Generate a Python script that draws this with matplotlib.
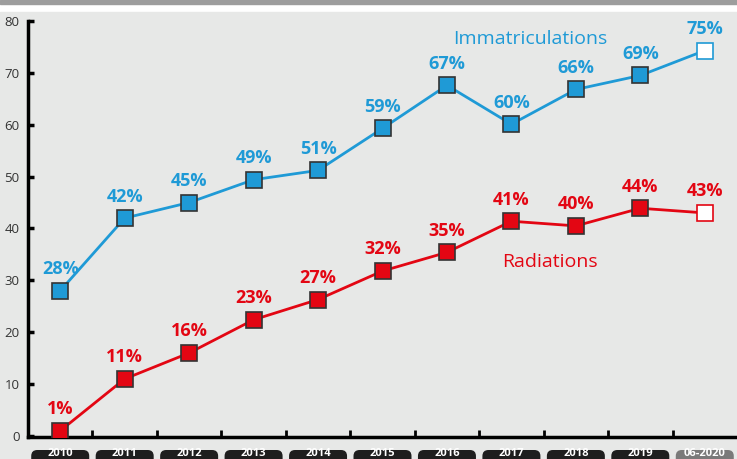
import matplotlib.pyplot as plt
from matplotlib.patches import Rectangle, FancyBboxPatch
from matplotlib.transforms import IdentityTransform

years = ["2010", "2011", "2012", "2013", "2014", "2015", "2016", "2017", "2018", "2019", "06-2020"]
immat = [28, 42, 45, 49.4, 51.2, 59.3, 67.6, 60.1, 66.8, 69.5, 74.3]
immat_lbl = ["28%", "42%", "45%", "49%", "51%", "59%", "67%", "60%", "66%", "69%", "75%"]
radia = [1, 11, 16, 22.4, 26.3, 31.8, 35.4, 41.4, 40.5, 43.9, 43]
radia_lbl = ["1%", "11%", "16%", "23%", "27%", "32%", "35%", "41%", "40%", "44%", "43%"]

BLUE = "#1f9ad6"
RED = "#e30613"
BG = "#e7e8e7"

plt.rcParams["font.family"] = ["Open Sans", "DejaVu Sans"]

fig = plt.figure(figsize=(7.37, 4.59), dpi=100)
fig.patches.append(Rectangle((0, 0), 1, 447 / 459, transform=fig.transFigure,
                             color=BG, zorder=-10))
fig.patches.append(Rectangle((0, 455 / 459), 1, 4 / 459, transform=fig.transFigure,
                             color="#9d9d9d", zorder=-10))

ax = fig.add_axes([28 / 737, 1 - 437 / 459, 1 - 28 / 737, 416 / 459])
ax.set_facecolor("none")
x = list(range(len(years)))

for vals, lbls, c in [(immat, immat_lbl, BLUE), (radia, radia_lbl, RED)]:
    ax.plot(x, vals, color=c, lw=2, zorder=2)
    ax.plot(x[:-1], vals[:-1], ls="none", marker="s", ms=11, mfc=c,
            mec="#333333", mew=1.2, zorder=3)
    ax.plot(x[-1:], vals[-1:], ls="none", marker="s", ms=11, mfc="white",
            mec=c, mew=1.2, zorder=3)
    for xi, v, t in zip(x, vals, lbls):
        ax.annotate(t, (xi, v), xytext=(0, 15.5), textcoords="offset points",
                    ha="center", va="center", color=c, fontsize=13,
                    fontweight="bold")

ax.text(7.3, 76.5, "Immatriculations", color=BLUE, fontsize=14,
        ha="center", va="center")
ax.text(7.6, 33.5, "Radiations", color=RED, fontsize=14,
        ha="center", va="center")

ax.set_xlim(-0.5, 10.5)
ax.set_ylim(-0.2, 80)
ax.set_yticks(range(0, 81, 10))
ax.set_xticks([i + 0.5 for i in range(10)])
ax.set_xticklabels([])
ax.tick_params(axis="both", direction="in", length=5, width=2, colors="black",
               labelcolor="#333333", labelsize=9.5, pad=6)
ax.tick_params(axis="y", direction="out", length=0)
for yv in range(0, 81, 10):
    ax.plot([-0.5, -0.41], [yv, yv], color="black", lw=2.5, clip_on=False,
            solid_capstyle="butt")
for s in ["top", "right"]:
    ax.spines[s].set_visible(False)
ax.spines["left"].set_linewidth(2.5)
ax.spines["bottom"].set_linewidth(2.5)

# category labels in rounded pills below the axis
for i, y in enumerate(years):
    fc = "#7a7a7a" if i == len(years) - 1 else "#1e1e1e"
    px = ax.transData.transform((i, 0))[0]
    fig.patches.append(FancyBboxPatch((px - 29, -8), 58, 17,
                                      boxstyle="round,pad=0,rounding_size=6",
                                      fc=fc, ec="none",
                                      transform=IdentityTransform()))
    fig.text(px / 737, 5 / 459, y, ha="center", va="center", color="white",
             fontsize=8, fontweight="bold")

fig.savefig("out.png", dpi=100)
